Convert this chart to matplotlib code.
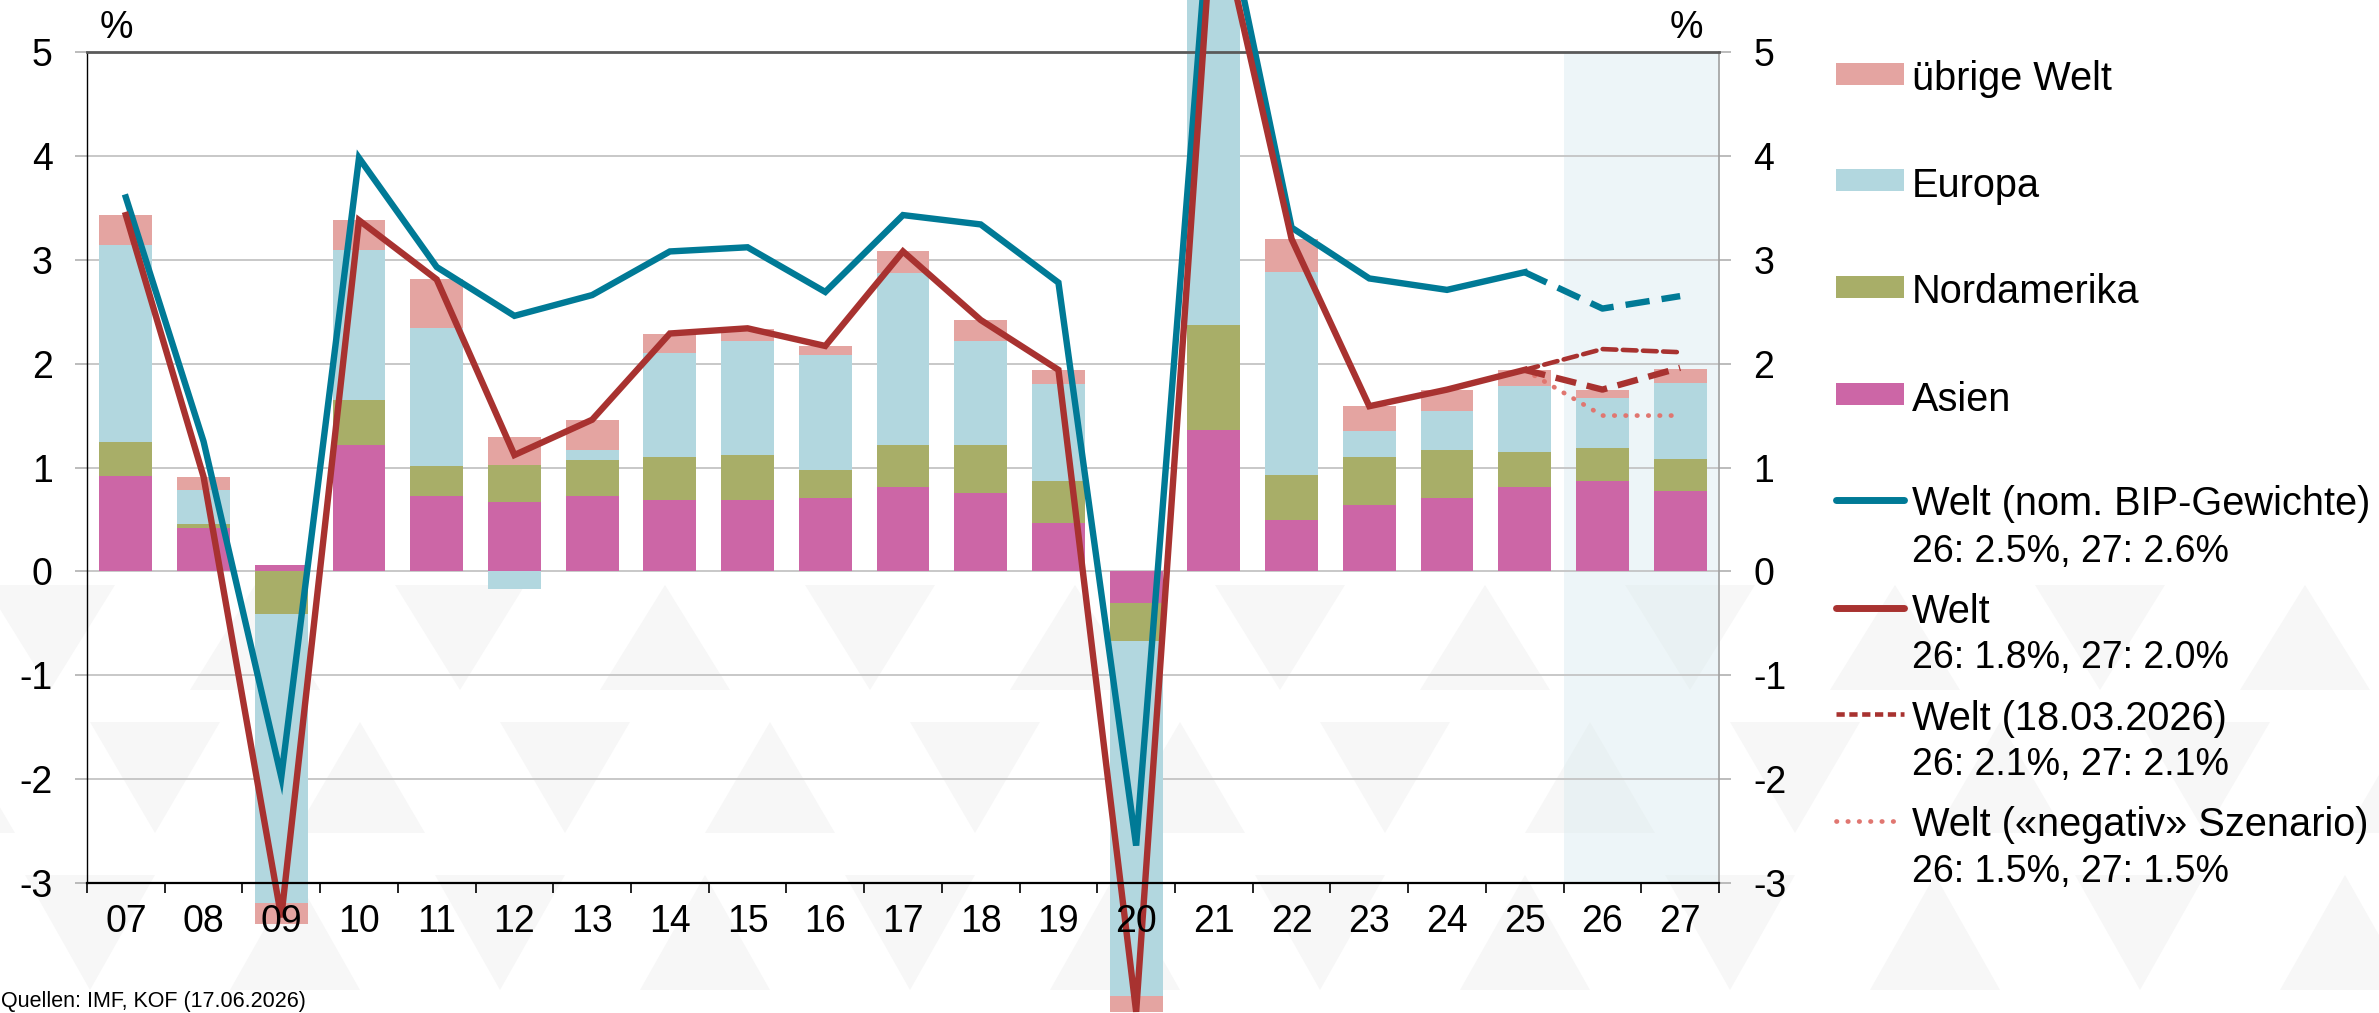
import numpy as np
import matplotlib.pyplot as plt
from matplotlib.patches import Polygon, Rectangle
from matplotlib.lines import Line2D

plt.rcParams['font.family'] = ['Liberation Sans', 'DejaVu Sans']
plt.rcParams['axes.unicode_minus'] = False

# --- data (contributions in %-points, world growth in %) ---
years = ['07', '08', '09', '10', '11', '12', '13', '14', '15', '16', '17',
         '18', '19', '20', '21', '22', '23', '24', '25', '26', '27']
asien = [0.92, 0.42, 0.06, 1.22, 0.73, 0.67, 0.73, 0.69, 0.69, 0.71, 0.81,
         0.75, 0.47, -0.30, 1.36, 0.49, 0.64, 0.71, 0.81, 0.87, 0.77]
nordamerika = [0.33, 0.04, -0.41, 0.43, 0.28, 0.35, 0.34, 0.41, 0.43, 0.27, 0.41,
               0.47, 0.40, -0.37, 1.01, 0.44, 0.46, 0.46, 0.34, 0.32, 0.31]
europa = [1.89, 0.32, -2.78, 1.44, 1.33, -0.17, 0.10, 1.00, 1.10, 1.10, 1.65,
          1.00, 0.93, -3.42, 3.60, 1.95, 0.25, 0.37, 0.63, 0.48, 0.73]
uebrige = [0.29, 0.13, -0.20, 0.29, 0.47, 0.27, 0.29, 0.19, 0.11, 0.09, 0.21,
           0.20, 0.14, -0.15, 0.53, 0.32, 0.24, 0.21, 0.16, 0.08, 0.14]
welt_nom = [3.60, 1.25, -1.98, 3.98, 2.93, 2.46, 2.66, 3.08, 3.12, 2.69, 3.43,
            3.34, 2.78, -2.64, 6.90, 3.31, 2.82, 2.71, 2.88, 2.53, 2.65]
welt = [3.43, 0.91, -3.33, 3.38, 2.81, 1.12, 1.46, 2.29, 2.34, 2.17, 3.08,
        2.42, 1.94, -4.24, 6.50, 3.20, 1.59, 1.75, 1.94, 1.75, 1.96]
welt_maerz = [1.94, 2.14, 2.11]      # 25, 26, 27
welt_negativ = [1.94, 1.50, 1.50]    # 25, 26, 27

W, H = 2379, 1013
c_asien = '#cc66a6'
c_na = '#a8ae68'
c_eu = '#b2d7df'
c_rest = '#e4a4a1'
c_teal = '#007a96'
c_red = '#a83230'
c_dot = '#e07670'

fig = plt.figure(figsize=(W / 100, H / 100), dpi=100)


def fx(px):
    return px / W


def fy(py):
    return 1 - py / H


# faint watermark pattern in the background
wm_rows = [(585, 690, 0), (722, 833, 105), (875, 990, 40)]
for top, bot, off in wm_rows:
    for k, x0 in enumerate(range(-220 + off, W + 100, 205)):
        if k % 2 == 0:
            pts = [(x0, bot), (x0 + 65, top), (x0 + 130, bot)]
        else:
            pts = [(x0, top), (x0 + 130, top), (x0 + 65, bot)]
        fig.add_artist(Polygon([(fx(a), fy(b)) for a, b in pts], closed=True,
                               transform=fig.transFigure, facecolor='#f7f7f7',
                               edgecolor='none', zorder=-5))

ax = fig.add_axes([fx(87), fy(883), fx(1719 - 87), (883 - 52) / H])
ax.set_facecolor('none')

x = np.arange(len(years))
ax.axvspan(18.5, 20.5, color='#d9ebf0', alpha=0.45, lw=0, zorder=0.5)

# stacked bars, positive and negative parts stacked separately
pos_base = np.zeros(len(years))
neg_base = np.zeros(len(years))
for vals, col in [(asien, c_asien), (nordamerika, c_na), (europa, c_eu), (uebrige, c_rest)]:
    v = np.array(vals)
    base = np.where(v >= 0, pos_base, neg_base)
    ax.bar(x, v, bottom=base, width=0.68, color=col, zorder=2, clip_on=False)
    pos_base = pos_base + np.where(v >= 0, v, 0)
    neg_base = neg_base + np.where(v < 0, v, 0)

# lines
lw = 4.6
ax.plot(x[:19], welt_nom[:19], color=c_teal, lw=lw, zorder=4, clip_on=False,
        solid_joinstyle='miter')
ax.plot(x[18:], welt_nom[18:], color=c_teal, lw=lw, zorder=4, clip_on=False,
        dashes=(3.8, 1.9))
ax.plot(x[18:], welt_negativ, color=c_dot, lw=3.4, zorder=3, clip_on=False,
        dashes=(0.1, 2.3), dash_capstyle='round')
ax.plot(x[18:], welt_maerz, color=c_red, lw=3.3, zorder=3, clip_on=False,
        dashes=(3.0, 1.4), dash_capstyle='round')
ax.plot(x[:19], welt[:19], color=c_red, lw=lw, zorder=5, clip_on=False,
        solid_joinstyle='miter')
ax.plot(x[18:], welt[18:], color=c_red, lw=lw, zorder=5, clip_on=False,
        dashes=(3.3, 1.7))

ax.set_xlim(-0.5, 20.5)
ax.set_ylim(-3, 5)
ax.set_yticks(range(-3, 6))
ax.set_yticklabels([str(v) for v in range(-3, 6)])
ax.set_xticks(x)
ax.set_xticklabels(years)
ax.set_xticks(np.arange(-0.5, 21, 1), minor=True)
ax.grid(axis='y', color='#c4c4c4', lw=1.3)
ax.set_axisbelow(True)
ax.xaxis.set_zorder(6)

ax.tick_params(axis='y', which='both', left=True, right=True, labelleft=True,
               labelright=True, length=8.6, width=1.2, color='#b0b0b0',
               labelsize=27, pad=16)
ax.tick_params(axis='x', which='major', length=0, labelsize=27, pad=15)
ax.tick_params(axis='x', which='minor', length=7.5, width=1.2, color='black')

ax.spines['top'].set_color('#5a5a5a')
ax.spines['top'].set_linewidth(2)
ax.spines['left'].set_color('black')
ax.spines['left'].set_linewidth(1)
ax.spines['right'].set_color('#a0a0a0')
ax.spines['right'].set_linewidth(1.2)
ax.spines['bottom'].set_color('black')
ax.spines['bottom'].set_linewidth(1.6)
ax.spines['bottom'].set_zorder(6)

fig.text(fx(100), fy(38), '%', fontsize=27, ha='left', va='baseline')
fig.text(fx(1703), fy(38), '%', fontsize=27, ha='right', va='baseline')
fig.text(fx(1), fy(1007), 'Quellen: IMF, KOF (17.06.2026)', fontsize=15.5,
         ha='left', va='baseline')

# legend, drawn by hand to match the layout
tx = fx(1912)
name_size = 28.6
value_size = 27
for label, col, cy, base in [('übrige Welt', c_rest, 74, 90),
                             ('Europa', c_eu, 180, 197),
                             ('Nordamerika', c_na, 287, 303),
                             ('Asien', c_asien, 394, 411)]:
    fig.add_artist(Rectangle((fx(1836), fy(cy + 11)), fx(68), 22 / H,
                             transform=fig.transFigure, facecolor=col,
                             edgecolor='none'))
    fig.text(tx, fy(base), label, fontsize=name_size, ha='left', va='baseline')

line_items = [('Welt (nom. BIP-Gewichte)', '26: 2.5%, 27: 2.6%', 500, 515, 562,
               dict(color=c_teal, lw=5, solid_capstyle='round')),
              ('Welt', '26: 1.8%, 27: 2.0%', 608, 623, 668,
               dict(color=c_red, lw=5, solid_capstyle='round')),
              ('Welt (18.03.2026)', '26: 2.1%, 27: 2.1%', 714, 730, 775,
               dict(color=c_red, lw=3.3, dashes=(1.8, 1.0))),
              ('Welt («negativ» Szenario)', '26: 1.5%, 27: 1.5%', 821, 836, 882,
               dict(color=c_dot, lw=3.4, dashes=(0.1, 2.3), dash_capstyle='round'))]
for l1, l2, cy, b1, b2, kw in line_items:
    fig.add_artist(Line2D([fx(1836), fx(1904)], [fy(cy), fy(cy)],
                          transform=fig.transFigure, **kw))
    fig.text(tx, fy(b1), l1, fontsize=name_size, ha='left', va='baseline')
    fig.text(tx, fy(b2), l2, fontsize=value_size, ha='left', va='baseline')

fig.savefig('out.png', dpi=100)
